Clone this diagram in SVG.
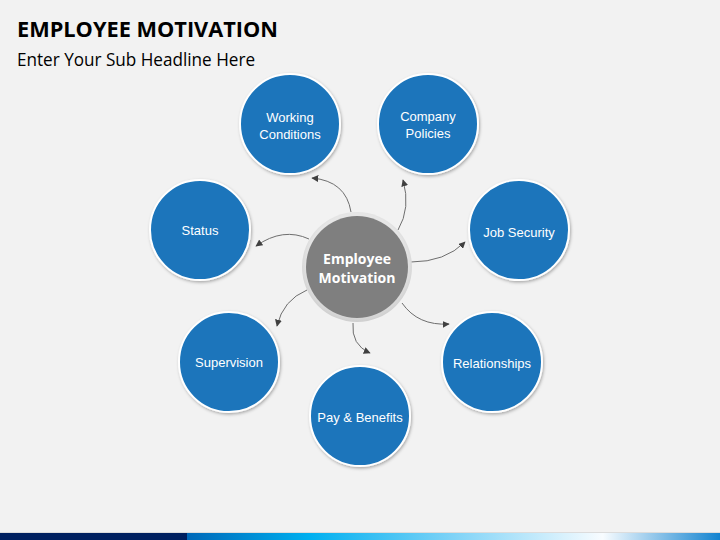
<svg xmlns="http://www.w3.org/2000/svg" width="720" height="540" viewBox="0 0 720 540">
<defs>
<style>
.node{fill:#1a75bb;stroke:#ffffff;stroke-width:2;filter:url(#sh)}
.lbl{font-family:"Liberation Sans","Open Sans",Arial,sans-serif;font-size:13px;fill:#ffffff;text-anchor:middle}
.con{fill:none;stroke:#6e6e6e;stroke-width:1;marker-end:url(#ah)}
</style>
<filter id="sh" x="-20%" y="-20%" width="140%" height="140%">
<feDropShadow dx="1" dy="1.5" stdDeviation="1.5" flood-color="#000000" flood-opacity="0.3"/>
</filter>
<marker id="ah" viewBox="0 0 10 10" refX="9" refY="5" markerWidth="7" markerHeight="7" markerUnits="userSpaceOnUse" orient="auto">
<path d="M0,0 L10,5 L0,10 Z" fill="#404040"/>
</marker>
<linearGradient id="bar" x1="0" y1="0" x2="1" y2="0">
<stop offset="0" stop-color="#0068b8"/>
<stop offset="0.23" stop-color="#00b0f0"/>
<stop offset="0.5" stop-color="#7fd3f7"/>
<stop offset="0.78" stop-color="#f8fcff"/>
<stop offset="1" stop-color="#1283d0"/>
</linearGradient>
<radialGradient id="ring" cx="0.5" cy="0.45" r="0.55">
<stop offset="0.8" stop-color="#e6e6e6"/>
<stop offset="1" stop-color="#cfcfcf"/>
</radialGradient>
</defs>
<rect x="0" y="0" width="720" height="540" fill="#f2f2f2"/>
<text x="17" y="37" font-family="'Open Sans','Liberation Sans',Arial,sans-serif" font-weight="bold" font-size="22" fill="#000000" textLength="261" lengthAdjust="spacingAndGlyphs">EMPLOYEE MOTIVATION</text>
<text x="17" y="66" font-family="'Open Sans','Liberation Sans',Arial,sans-serif" font-size="18" fill="#000000" textLength="238" lengthAdjust="spacingAndGlyphs">Enter Your Sub Headline Here</text>
<rect x="0" y="532" width="720" height="1" fill="#dcdcdc"/>
<rect x="0" y="533" width="187" height="7" fill="#002060"/>
<rect x="187" y="533" width="533" height="7" fill="url(#bar)"/>
<g id="connectors">
<path class="con" d="M351,212 Q346,181 312,178"/>
<path class="con" d="M398,230 Q411,208 403,180"/>
<path class="con" d="M309,239 Q283,227 256,246"/>
<path class="con" d="M411,262 Q445,262 465,242"/>
<path class="con" d="M402,303 Q418,326 449,324"/>
<path class="con" d="M353,323 Q351,345 370,353"/>
<path class="con" d="M307,290 Q283,300 277,326"/>
</g>
<g id="center">
<circle cx="357" cy="267" r="55" fill="url(#ring)"/>
<circle cx="357" cy="267" r="51" fill="#7f7f7f"/>
<text x="357" y="264" font-family="'Open Sans','Liberation Sans',Arial,sans-serif" font-weight="bold" font-size="14" fill="#ffffff" text-anchor="middle">Employee</text>
<text x="357" y="283" font-family="'Open Sans','Liberation Sans',Arial,sans-serif" font-weight="bold" font-size="14" fill="#ffffff" text-anchor="middle">Motivation</text>
</g>
<g id="working-conditions">
<circle class="node" cx="290" cy="124" r="50"/>
<text class="lbl" x="290" y="122">Working</text>
<text class="lbl" x="290" y="139">Conditions</text>
</g>
<g id="company-policies">
<circle class="node" cx="428" cy="124" r="50"/>
<text class="lbl" x="428" y="121">Company</text>
<text class="lbl" x="428" y="138">Policies</text>
</g>
<g id="status">
<circle class="node" cx="200" cy="230" r="50"/>
<text class="lbl" x="200" y="235">Status</text>
</g>
<g id="job-security">
<circle class="node" cx="519" cy="230" r="50"/>
<text class="lbl" x="519" y="237">Job Security</text>
</g>
<g id="supervision">
<circle class="node" cx="229" cy="362" r="50"/>
<text class="lbl" x="229" y="367">Supervision</text>
</g>
<g id="relationships">
<circle class="node" cx="492" cy="362" r="50"/>
<text class="lbl" x="492" y="368">Relationships</text>
</g>
<g id="pay-benefits">
<circle class="node" cx="360" cy="416" r="50"/>
<text class="lbl" x="360" y="422">Pay &amp; Benefits</text>
</g>
</svg>
